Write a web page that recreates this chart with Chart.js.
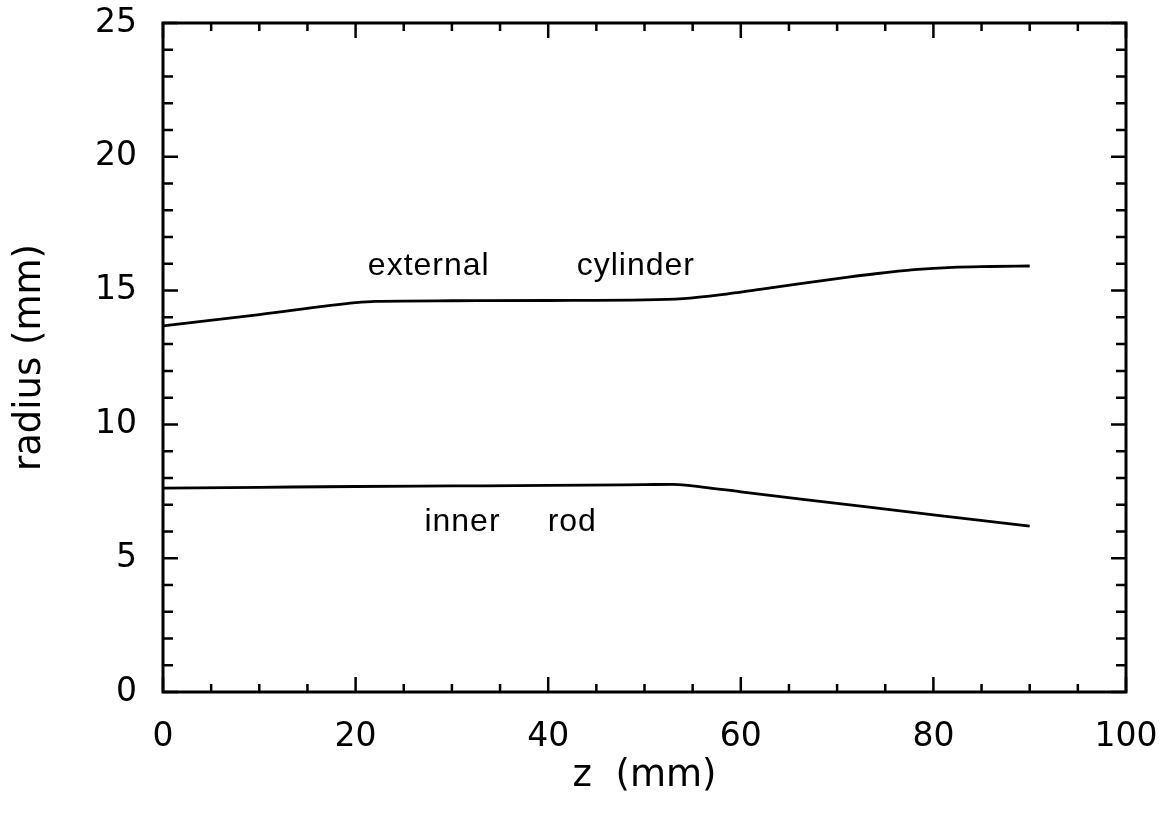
<!DOCTYPE html>
<html>
<head>
<meta charset="utf-8">
<title>radius vs z</title>
<script src="https://cdn.jsdelivr.net/npm/chart.js@4.4.1/dist/chart.umd.min.js"></script>
<style>
  html, body { margin: 0; padding: 0; background: #fff; }
</style>
</head>
<body>
<canvas id="profileChart" width="1167" height="813"></canvas>
<script>
// external cylinder wall, radius (mm) against z (mm)
const outerZ = [0, 10, 20, 22, 30, 40, 50, 54, 58, 62, 66, 70, 74, 78, 82, 86, 90];
const outerR = [13.68, 14.1, 14.55, 14.6, 14.62, 14.63, 14.65, 14.7, 14.85, 15.05, 15.25, 15.45, 15.63, 15.78, 15.87, 15.9, 15.92];

// inner rod
const innerZ = [0, 10, 20, 30, 40, 50, 53, 56, 60, 70, 80, 90];
const innerR = [7.62, 7.65, 7.68, 7.7, 7.72, 7.75, 7.76, 7.66, 7.48, 7.05, 6.62, 6.2];

const xTicks = [0, 20, 40, 60, 80, 100];
const yTicks = [0, 5, 10, 15, 20, 25];

// text placed inside the plot, in data units
const noteText = ['external', 'cylinder', 'inner', 'rod'];
const noteZ = [27.6, 49.1, 31.1, 42.5];
const noteR = [15.6, 15.6, 6.0, 6.0];

const toPoints = (zs, rs) => zs.map((z, i) => ({ x: z, y: rs[i] }));

// box around the plot with inward ticks on all four sides, plus the notes
const framePlugin = {
    id: 'frame',
    afterDatasetsDraw(chart) {
        const { ctx, chartArea: a, scales: { x, y } } = chart;
        ctx.save();
        ctx.strokeStyle = '#000';
        ctx.lineWidth = 3;
        ctx.strokeRect(a.left, a.top, a.right - a.left, a.bottom - a.top);

        ctx.lineWidth = 2.5;
        ctx.beginPath();
        for (let z = 0; z <= 100; z += 5) {
            const px = x.getPixelForValue(z);
            const len = xTicks.includes(z) ? 15 : 8;
            ctx.moveTo(px, a.bottom); ctx.lineTo(px, a.bottom - len);
            ctx.moveTo(px, a.top); ctx.lineTo(px, a.top + len);
        }
        for (let r = 0; r <= 25; r += 1) {
            const py = y.getPixelForValue(r);
            const len = yTicks.includes(r) ? 15 : 10;
            ctx.moveTo(a.left, py); ctx.lineTo(a.left + len, py);
            ctx.moveTo(a.right, py); ctx.lineTo(a.right - len, py);
        }
        ctx.stroke();

        ctx.fillStyle = '#000';
        ctx.font = '32px "Liberation Sans", Arial, sans-serif';
        ctx.letterSpacing = '1px';
        ctx.textAlign = 'center';
        ctx.textBaseline = 'alphabetic';
        noteText.forEach((t, i) => {
            ctx.fillText(t, x.getPixelForValue(noteZ[i]), y.getPixelForValue(noteR[i]));
        });
        ctx.restore();
    }
};

const ctx = document.getElementById('profileChart').getContext('2d');
const profileChart = new Chart(ctx, {
    type: 'scatter',
    data: {
        datasets: [{
            label: 'external cylinder',
            data: toPoints(outerZ, outerR),
            showLine: true,
            borderColor: '#000',
            borderWidth: 2.8,
            pointRadius: 0,
            cubicInterpolationMode: 'monotone'
        }, {
            label: 'inner rod',
            data: toPoints(innerZ, innerR),
            showLine: true,
            borderColor: '#000',
            borderWidth: 2.8,
            pointRadius: 0,
            cubicInterpolationMode: 'monotone'
        }]
    },
    options: {
        responsive: false,
        animation: false,
        devicePixelRatio: 1,
        layout: { padding: { left: 0, top: 23, right: 41, bottom: 0 } },
        plugins: {
            legend: { display: false },
            tooltip: { enabled: false }
        },
        scales: {
            x: {
                type: 'linear',
                min: 0,
                max: 100,
                afterBuildTicks: s => { s.ticks = xTicks.map(v => ({ value: v })); },
                afterFit: s => {
                    s.height = 121;
                    s.paddingLeft = 0;
                    s.paddingRight = 0;
                },
                grid: { display: false, drawTicks: false },
                border: { display: false },
                ticks: {
                    color: '#000',
                    padding: 26,
                    maxRotation: 0,
                    font: { family: '"DejaVu Sans", sans-serif', size: 33 }
                },
                title: {
                    display: true,
                    text: 'z  (mm)',
                    color: '#000',
                    padding: { top: 0, bottom: 14 },
                    font: { family: '"DejaVu Sans", sans-serif', size: 37 }
                }
            },
            y: {
                type: 'linear',
                min: 0,
                max: 25,
                afterBuildTicks: s => { s.ticks = yTicks.map(v => ({ value: v })); },
                afterFit: s => {
                    s.width = 163;
                    s.paddingTop = 0;
                    s.paddingBottom = 0;
                },
                grid: { display: false, drawTicks: false },
                border: { display: false },
                ticks: {
                    color: '#000',
                    padding: 26,
                    font: { family: '"DejaVu Sans", sans-serif', size: 33 }
                },
                title: {
                    display: true,
                    text: 'radius (mm)',
                    color: '#000',
                    padding: { top: 8, bottom: 0 },
                    font: { family: '"DejaVu Sans", sans-serif', size: 37 }
                }
            }
        }
    },
    plugins: [framePlugin]
});
</script>
</body>
</html>
